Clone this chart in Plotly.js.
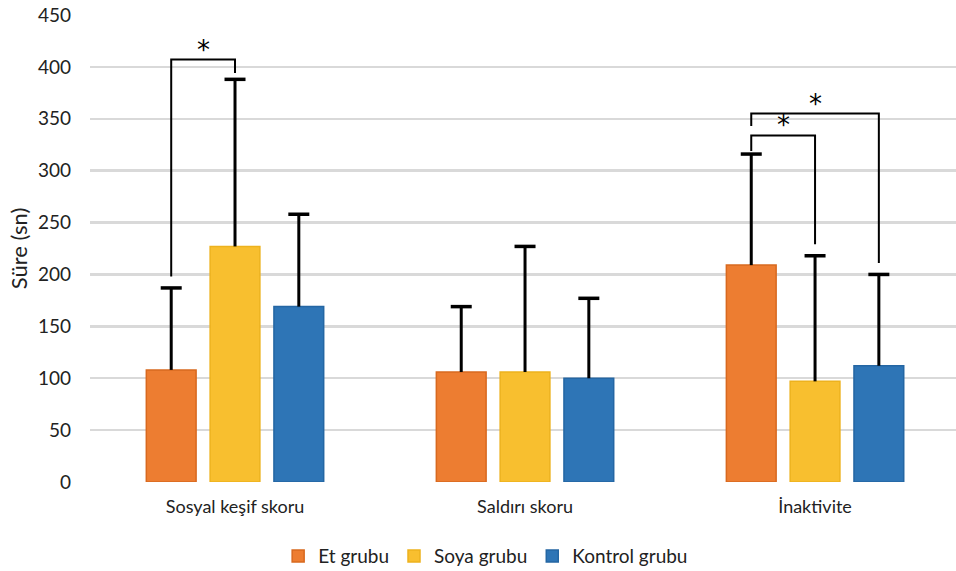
<!DOCTYPE html>
<html><head><meta charset="utf-8">
<script src="https://cdn.plot.ly/plotly-3.0.1.min.js"></script>
<style>html,body{margin:0;padding:0;background:#fff;}#chart{width:956px;height:571px;}</style>
</head><body><div id="chart"></div>
<script>
const categories = ["Sosyal keşif skoru", "Saldırı skoru", "İnaktivite"];
const seriesNames = ["Et grubu", "Soya grubu", "Kontrol grubu"];
const etValues = [108, 106, 209];
const soyaValues = [227, 106, 97];
const kontrolValues = [169, 100, 112];
const etErr = [79, 63, 107];
const soyaErr = [161, 121, 121];
const kontrolErr = [89, 77, 88];
// significance brackets: [categoryIndex, barA, barB, topY, legA_bottomY, legB_bottomY]
const brackets = [
  [0, 0, 1, 407, 198, 394],
  [2, 0, 1, 334, 319, 229],
  [2, 0, 2, 355, 343, 211]
];

const colors = ["#ED7D31", "#F8BF2F", "#2E75B6"];
const borders = ["#D8691F", "#EDB21E", "#2466A3"];
const vals = [etValues, soyaValues, kontrolValues];
const errs = [etErr, soyaErr, kontrolErr];
const xRange = [-0.5, 2.486];
const slot = 0.22;

const traces = seriesNames.map((n, i) => ({
  type: "bar", name: n, x: categories, y: vals[i],
  marker: {color: colors[i], line: {color: borders[i], width: 1.5}}
}));

// upper-only error bars drawn on a hidden linear axis aligned with the category axis
const exs = [], eys = [], cx = [], cy = [];
vals.forEach((v, s) => {
  v.forEach((val, c) => {
    const xp = c + (s - 1) * slot;
    exs.push(xp, xp, null);
    eys.push(val, val + errs[s][c], null);
    cx.push(xp); cy.push(val + errs[s][c]);
  });
});
traces.push({type: "scatter", mode: "lines", x: exs, y: eys, xaxis: "x2", yaxis: "y",
  line: {color: "#000", width: 3}, showlegend: false, hoverinfo: "skip"});
traces.push({type: "scatter", mode: "markers", x: cx, y: cy, xaxis: "x2", yaxis: "y",
  marker: {symbol: "line-ew", size: 15, line: {color: "#000", width: 3.5}}, showlegend: false, hoverinfo: "skip"});

const shapes = [];
const annotations = [];
brackets.forEach(b => {
  const xa = b[0] + (b[1] - 1) * slot;
  const xb = b[0] + (b[2] - 1) * slot;
  shapes.push({type: "path", xref: "x2", yref: "y",
    path: `M ${xa},${b[4]} L ${xa},${b[3]} L ${xb},${b[3]} L ${xb},${b[5]}`,
    line: {color: "#000", width: 2}});
  annotations.push({x: (xa + xb) / 2, y: b[3], xref: "x2", yref: "y", text: "*", showarrow: false,
    yanchor: "bottom", yshift: -7, font: {size: 26, color: "#000", family: "DejaVu Sans"}});
});

const layout = {
  width: 956, height: 571,
  margin: {l: 90, r: 0, t: 15, b: 89, autoexpand: false},
  paper_bgcolor: "#fff", plot_bgcolor: "#fff",
  font: {family: "Lato, 'Open Sans', sans-serif", color: "#222", size: 18},
  barmode: "group", bargap: 0.34, bargroupgap: 0.22,
  xaxis: {type: "category", range: xRange, showgrid: false, showline: false, zeroline: false,
          ticks: "", ticklabelstandoff: 12, tickfont: {size: 18, color: "#222"}},
  xaxis2: {type: "linear", range: xRange, overlaying: "x", visible: false, showgrid: false, zeroline: false},
  yaxis: {range: [0, 450], dtick: 50, showgrid: true, gridcolor: "#D9D9D9", gridwidth: 2.5,
          zeroline: false, showline: false, ticks: "", ticklabelstandoff: 18,
          tickfont: {size: 19, color: "#222"},
          title: {text: "Süre (sn)", font: {size: 22, color: "#222"}, standoff: 4}},
  legend: {orientation: "h", x: 0.508, xanchor: "center", xref: "container",
           y: 0.026, yanchor: "middle", yref: "container",
           font: {size: 19, color: "#222"}, itemwidth: 20, traceorder: "normal"},
  shapes: shapes, annotations: annotations, showlegend: true
};
Plotly.newPlot("chart", traces, layout, {displayModeBar: false, staticPlot: true});
</script></body></html>
